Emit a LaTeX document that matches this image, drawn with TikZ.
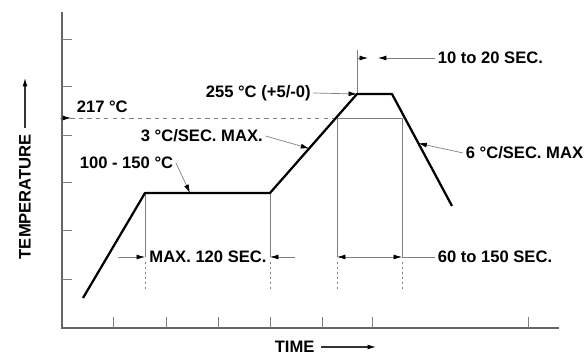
\documentclass[tikz,border=0pt]{standalone}
\usepackage{fontspec}
\setmainfont{Liberation Sans}
\usetikzlibrary{arrows.meta,calc}

\begin{document}
\begin{tikzpicture}[x=0.025cm,y=-0.025cm]
\tikzstyle{axis}=[draw=black!60,line width=1.8pt]
\tikzstyle{profile}=[draw=black,line width=1.6pt,line join=round]
\tikzstyle{thin}=[draw=black!50,line width=0.5pt]
\tikzstyle{ext}=[thin,dash pattern=on 1.5pt off 2pt]
\tikzstyle{lbl}=[anchor=west,inner sep=0pt,outer sep=2pt,font=\fontsize{11.8}{13}\selectfont\bfseries]
\tikzstyle{tip}=[-{Latex[length=6pt,width=3.5pt,black]}]
\tikzstyle{tips}=[{Latex[length=6pt,width=3.5pt,black]}-{Latex[length=6pt,width=3.5pt,black]}]
\useasboundingbox (0,0) rectangle (588,359);
% axes
\coordinate (ytop) at (62,12);
\coordinate (o) at (62,328);
\coordinate (xend) at (559,328);
\draw[axis] (ytop) -- (o) -- (xend);
\foreach \y in {39,86,135,182,230,279} \draw[thin] (62,\y) -- (72,\y);
\foreach \x in {113,166,218,270,322,372,528} \draw[thin] (\x,328) -- (\x,317);
% profile
\coordinate (start) at (83,298);
\coordinate (soakA) at (145,193);
\coordinate (soakB) at (270,193);
\coordinate (peakA) at (357,94);
\coordinate (peakB) at (392,94);
\coordinate (cool) at (452,206);
% 217 line and time marks
\coordinate (liqA) at (337,118);
\coordinate (liqB) at (402,118);
\draw[thin,dashed] (62,118) -- (liqA);
\draw[thin] (liqA) -- (liqB);
\draw[thin,tip] (60,118) -- (71,118);
\foreach \x/\t in {145/193,270/193,337/118,402/118} {
  \draw[thin] (\x,\t) -- (\x,257);
  \draw[ext] (\x,262) -- (\x,290);
}
\draw[thin] (peakA) -- (357,50);
\draw[profile] (start) -- (soakA) -- (soakB) -- (peakA) -- (peakB) -- (cool);
% labels
\node[lbl] (t217) at (74,107) {217 °C};
\node[lbl] (tpeak) at (203,93) {255 °C (+5/-0)};
\node[lbl] (tramp) at (138,136) {3 °C/SEC. MAX.};
\node[lbl] (tsoak) at (77,163) {100 - 150 °C};
\node[lbl] (tcool) at (463,153) {6 °C/SEC. MAX};
\node[lbl] (t1020) at (435,58) {10 to 20 SEC.};
\node[lbl] (t60) at (435,257) {60 to 150 SEC.};
\node[lbl,anchor=center] (t120) at (208,257) {MAX. 120 SEC.};
\node[lbl,rotate=90] (ttemp) at (25,262) {TEMPERATURE};
\node[lbl] (ttime) at (272,347) {TIME};
% leaders
\draw[thin,tip] (tpeak.east) -- (peakA);
\draw[thin,tip] (tramp.east) -- ($(soakB)!0.45!(peakA)$);
\draw[thin,tip] (tsoak.east) -- ($(soakA)!0.36!(soakB)$);
\draw[thin,tip] (tcool.west) -- ($(peakB)!0.44!(cool)$);
% dimensions
\draw[thin,tip] (357,58) -- (368,58);
\draw[thin,tip] (t1020.west) -- (378,58);
\draw[thin,tips] (337,257) -- (402,257);
\draw[thin] (402,257) -- (t60.west);
\draw[thin,tip] (118,257) -- (145,257);
\draw[thin,tip] (295,257) -- (270,257);
\draw[black!80,line width=0.8pt,tip] (ttemp.east) ++(0,-3) -- (25,78);
\draw[black!80,line width=0.8pt,tip] (ttime.east) ++(4,0) -- (376,347);
\end{tikzpicture}
\end{document}
